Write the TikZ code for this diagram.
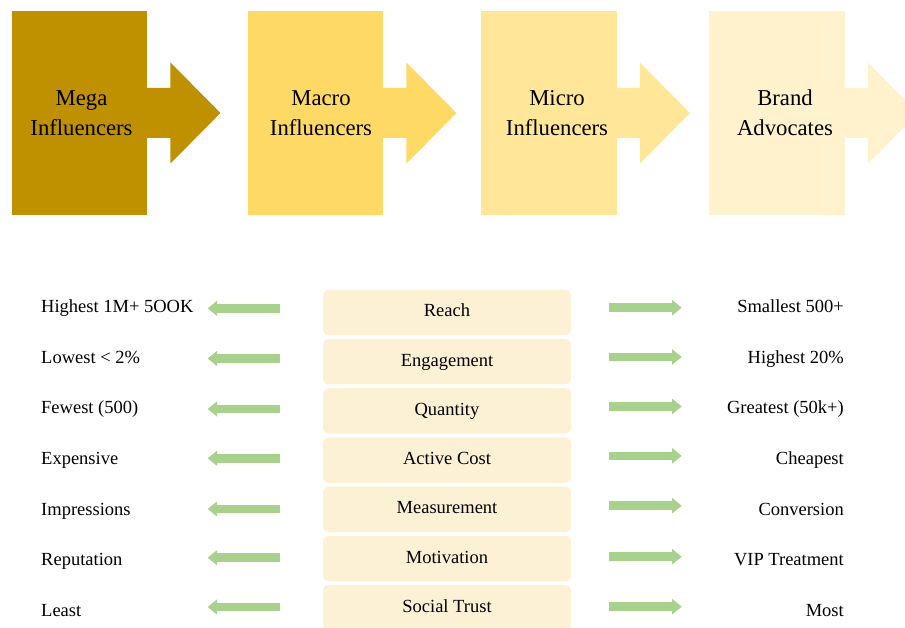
\documentclass[tikz,border=0pt]{standalone}
\usepackage{fontspec}
\setmainfont{Liberation Serif}
\usetikzlibrary{arrows.meta}
\definecolor{megac}{HTML}{BF9000}
\definecolor{macroc}{HTML}{FFD966}
\definecolor{microc}{HTML}{FFE699}
\definecolor{brandc}{HTML}{FFF2CC}
\definecolor{rowc}{HTML}{FCF1D5}
\definecolor{greenc}{HTML}{A9D18E}
\tikzset{
  topbox/.style={rectangle, inner sep=0pt, minimum width=135.5pt, minimum height=204pt},
  toptext/.style={align=center, inner sep=0pt, font=\fontsize{22.7}{30}\selectfont, text=black},
  rowbox/.style={rectangle, rounded corners=6pt, fill=rowc, inner sep=0pt,
     minimum width=248pt, minimum height=45.5pt, text height=13pt, text depth=4pt,
     font=\fontsize{18.5}{22}\selectfont},
  lefttext/.style={anchor=base west, inner sep=0pt, font=\fontsize{18.5}{22}\selectfont},
  righttext/.style={anchor=base east, inner sep=0pt, font=\fontsize{18.5}{22}\selectfont},
  garrow/.style={draw=greenc, line width=8.7pt, -{Triangle[length=9.5pt,width=15.5pt,line width=0pt]}},
  blockhead/.style={fill=#1}
}
\begin{document}
\begin{tikzpicture}[x=1pt,y=-1pt]
\useasboundingbox (0,0) rectangle (905,628);
\clip (0,0) rectangle (905,628);
% top stages
\node[topbox, fill=megac] (mega) at (79.5,113) {};
\node[topbox, fill=macroc] (macro) at (315.5,113) {};
\node[topbox, fill=microc] (micro) at (549,113) {};
\node[topbox, fill=brandc] (brand) at (777,113) {};
\foreach \b/\c in {mega/megac, macro/macroc, micro/microc, brand/brandc}{
  \fill[blockhead=\c] (\b.east) ++(-1,-25) -- ++(24,0) -- ++(0,-25.5) -- ++(50,50.5)
     -- ++(-50,50.5) -- ++(0,-25.5) -- ++(-24,0) -- cycle;
}
\node[toptext] (megat) at (81.5,112.7) {Mega\\Influencers};
\node[toptext] (macrot) at (321,112.7) {Macro\\Influencers};
\node[toptext] (microt) at (557,112.7) {Micro\\Influencers};
\node[toptext] (brandt) at (785,112.7) {Brand\\Advocates};
% rows
\foreach \i/\t/\yc in {1/Reach/312.5, 2/Engagement/361.7, 3/Quantity/410.9, 4/Active Cost/460.1,
   5/Measurement/509.3, 6/Motivation/558.5, 7/Social Trust/607.7}{
  \node[rowbox] (row\i) at (447,\yc) {\t};
}
\foreach \i/\t/\yb in {1/Highest 1M+ 5OOK/312.3, 2/Lowest < 2\%/363, 3/Fewest (500)/413.7,
   4/Expensive/464.4, 5/Impressions/515.1, 6/Reputation/565.8, 7/Least/616.5}{
  \node[lefttext] (left\i) at (41,\yb) {\t};
}
\foreach \i/\t/\yb in {1/Smallest 500+/312.3, 2/Highest 20\%/363, 3/Greatest (50k+)/413.7,
   4/Cheapest/464.4, 5/Conversion/515.1, 6/VIP Treatment/565.8, 7/Most/616.5}{
  \node[righttext] (right\i) at (844,\yb) {\t};
}
% arrows
\foreach \i/\yl/\yr in {1/308.3/307.7, 2/358.5/357, 3/409/406.5, 4/458.3/455.9,
   5/509/505.7, 6/557.7/556.7, 7/607/606.7}{
  \coordinate (las\i) at (280,\yl);
  \coordinate (lae\i) at (207.7,\yl);
  \coordinate (ras\i) at (609.3,\yr);
  \coordinate (rae\i) at (681.7,\yr);
  \draw[garrow] (las\i) -- (lae\i);
  \draw[garrow] (ras\i) -- (rae\i);
}
\end{tikzpicture}
\end{document}
